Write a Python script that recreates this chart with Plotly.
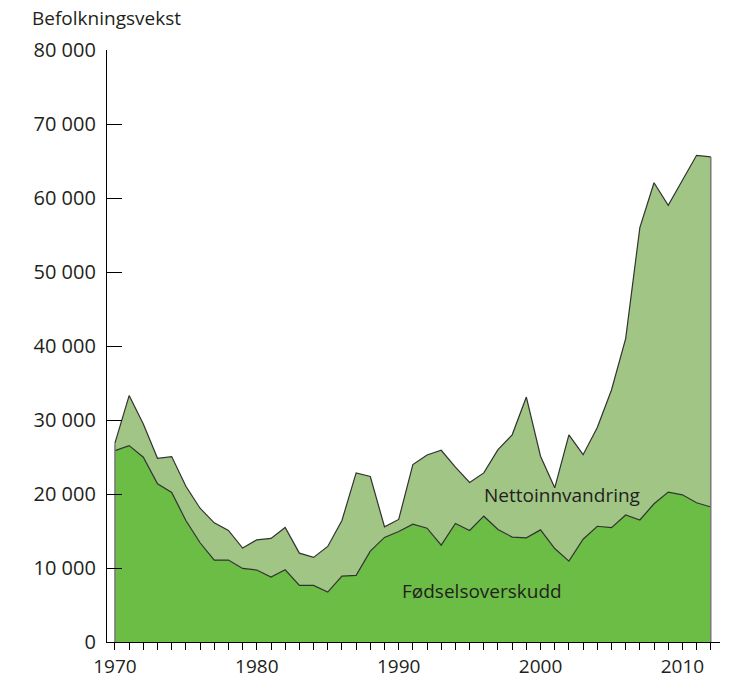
import plotly.graph_objects as go

years = list(range(1970, 2013))
fodselsoverskudd = [25870, 26540, 24970, 21370, 20200, 16420, 13410, 11070, 11070, 9940,
                    9720, 8770, 9760, 7650, 7650, 6750, 8910, 9000, 12280, 14130,
                    14940, 15920, 15380, 13090, 16020, 15070, 17000, 15210, 14180, 14070,
                    15150, 12630, 10930, 13890, 15640, 15460, 17160, 16490, 18680, 20250,
                    19890, 18820, 18240]
nettoinnvandring = [1000, 6760, 4490, 3460, 4860, 4630, 4670, 5030, 4000, 2750,
                    4090, 5220, 5720, 4360, 3780, 6160, 7510, 13850, 10080, 1440,
                    1620, 8060, 9900, 12820, 7600, 6480, 5850, 10790, 13820, 19030,
                    9950, 8200, 17070, 11420, 13350, 18590, 23840, 39510, 43380, 38750,
                    42510, 46950, 47310]
y_ticks = [0, 10000, 20000, 30000, 40000, 50000, 60000, 70000, 80000]
y_labels = ["0", "10 000", "20 000", "30 000", "40 000", "50 000", "60 000", "70 000", "80 000"]
x_ticks = [1970, 1980, 1990, 2000, 2010]

total = [a + b for a, b in zip(fodselsoverskudd, nettoinnvandring)]

DARK = "rgb(107,189,69)"
LIGHT = "rgb(160,197,132)"
LINE = "rgb(50,50,50)"
TXT = "rgb(35,31,32)"
FONT = "Open Sans"

fig = go.Figure()
fig.add_trace(go.Scatter(x=years, y=fodselsoverskudd, mode="lines", stackgroup="s",
                         fillcolor=DARK, line=dict(color=LINE, width=1.2),
                         name="Fødselsoverskudd"))
fig.add_trace(go.Scatter(x=years, y=nettoinnvandring, mode="lines", stackgroup="s",
                         fillcolor=LIGHT, line=dict(color=LINE, width=1.2),
                         name="Nettoinnvandring"))
# vertical edges of the area at first and last year
for i in (0, -1):
    fig.add_trace(go.Scatter(x=[years[i], years[i]], y=[0, total[i]], mode="lines",
                             line=dict(color="rgb(120,120,120)", width=1.5),
                             showlegend=False, hoverinfo="skip"))

fig.add_annotation(x=2001.5, y=19900, text="Nettoinnvandring", showarrow=False,
                   font=dict(family=FONT, size=19, color=TXT))
fig.add_annotation(x=1995.9, y=6850, text="Fødselsoverskudd", showarrow=False,
                   font=dict(family=FONT, size=19, color=TXT))

fig.update_layout(
    width=742, height=691,
    margin=dict(l=107, r=22, t=50, b=46),
    paper_bgcolor="white", plot_bgcolor="white",
    showlegend=False,
    font=dict(family=FONT, size=19, color=TXT),
    title=dict(text="Befolkningsvekst", x=32 / 742, xanchor="left", xref="container",
               y=1 - 18 / 691, yanchor="middle", yref="container",
               font=dict(family=FONT, size=19, color=TXT)),
    xaxis=dict(range=[1969.44, 2012.65], tickvals=x_ticks, ticks="outside", ticklen=7,
               tickcolor="black", showline=True, linecolor="black", linewidth=1.2,
               showgrid=False, zeroline=False,
               minor=dict(dtick=1, tick0=1970, ticks="outside", ticklen=7, tickcolor="black", showgrid=False),
               tickfont=dict(family=FONT, size=19)),
    yaxis=dict(range=[0, 80000], tickvals=y_ticks, ticktext=y_labels, ticks="inside",
               ticklen=15, tickcolor="black", showline=True, linecolor="black", linewidth=1.2,
               showgrid=False, zeroline=False, ticklabelstandoff=6,
               tickfont=dict(family=FONT, size=20)),
)

fig.write_html("out.html")
